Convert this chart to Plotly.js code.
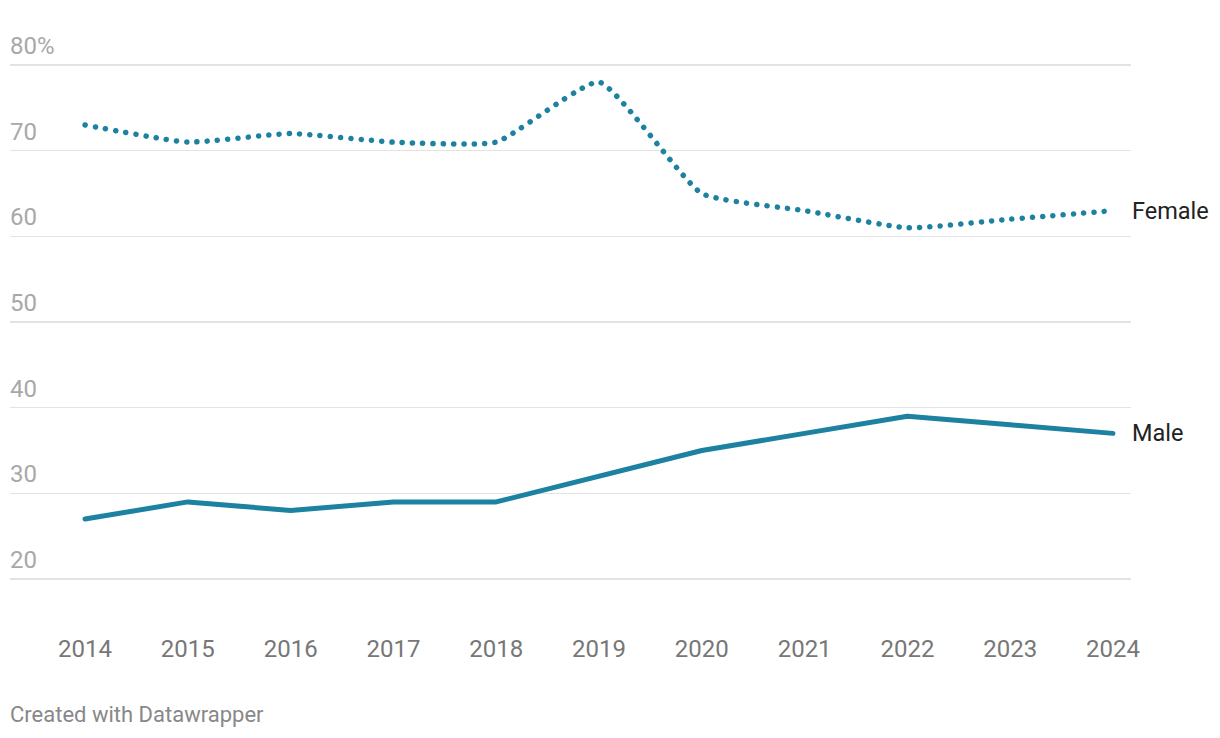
<!DOCTYPE html>
<html>
<head>
<meta charset="utf-8">
<script src="https://cdn.plot.ly/plotly-3.0.1.min.js"></script>
<style>
html,body{margin:0;padding:0;background:#fff;}
#chart{width:1220px;height:738px;}
path.js-line{stroke-linecap:round !important;stroke-linejoin:round !important;}
</style>
</head>
<body>
<div id="chart"></div>
<script>
const years = [2014,2015,2016,2017,2018,2019,2020,2021,2022,2023,2024];
const female = [73,71,72,71,71,78,65,63,61,62,63];
const male = [27,29,28,29,29,32,35,37,39,38,37];
const yTicks = [20,30,40,50,60,70,80];
const yTickLabels = ['20','30','40','50','60','70','80%'];
const seriesNames = ['Female','Male'];

const color = '#1d81a2';
const traces = [
  {x: years, y: female, name: seriesNames[0], mode: 'lines', type: 'scatter',
   line: {color: color, width: 5.5, dash: '0.1px,10.2px', shape: 'spline', smoothing: 0.45},
   hoverinfo: 'x+y', cliponaxis: false},
  {x: years, y: male, name: seriesNames[1], mode: 'lines', type: 'scatter',
   line: {color: color, width: 5, shape: 'linear'}, hoverinfo: 'x+y', cliponaxis: false}
];

const annotations = yTicks.map((v, i) => ({
  xref: 'paper', yref: 'y', x: 0, y: v, xanchor: 'left', yanchor: 'bottom',
  xshift: -2, yshift: 3, text: yTickLabels[i], showarrow: false,
  font: {family: 'Roboto, sans-serif', size: 24, color: '#a8a8a8'}
}));
annotations.push({xref: 'x', yref: 'y', x: years[years.length-1], y: female[female.length-1],
  xanchor: 'left', yanchor: 'middle', xshift: 17, text: seriesNames[0], showarrow: false,
  font: {family: 'Roboto, sans-serif', size: 23.5, color: '#222'}});
annotations.push({xref: 'x', yref: 'y', x: years[years.length-1], y: male[male.length-1],
  xanchor: 'left', yanchor: 'middle', xshift: 17, text: seriesNames[1], showarrow: false,
  font: {family: 'Roboto, sans-serif', size: 23.5, color: '#222'}});
annotations.push({xref: 'paper', yref: 'paper', x: 0, y: 0, xanchor: 'left', yanchor: 'top',
  xshift: -2, yshift: -72, text: 'Created with Datawrapper', showarrow: false,
  font: {family: 'Roboto, sans-serif', size: 22, color: '#888'}});

const layout = {
  width: 1220, height: 738,
  margin: {l: 10, r: 89, t: 62, b: 110},
  paper_bgcolor: '#fff', plot_bgcolor: '#fff',
  showlegend: false,
  font: {family: 'Roboto, sans-serif'},
  xaxis: {range: [2013.27, 2024.175], tickvals: years, ticktext: years.map(String),
    showgrid: false, zeroline: false, showline: false, ticks: '', ticklabelstandoff: 4,
    tickfont: {family: 'Roboto, sans-serif', size: 24, color: '#777'}},
  yaxis: {range: [14.28, 80.35], tickvals: yTicks, showticklabels: false,
    showgrid: true, gridcolor: '#e3e3e3', gridwidth: 1.5, zeroline: false, showline: false},
  annotations: annotations
};

Plotly.newPlot('chart', traces, layout, {displayModeBar: false, staticPlot: true});
</script>
</body>
</html>
